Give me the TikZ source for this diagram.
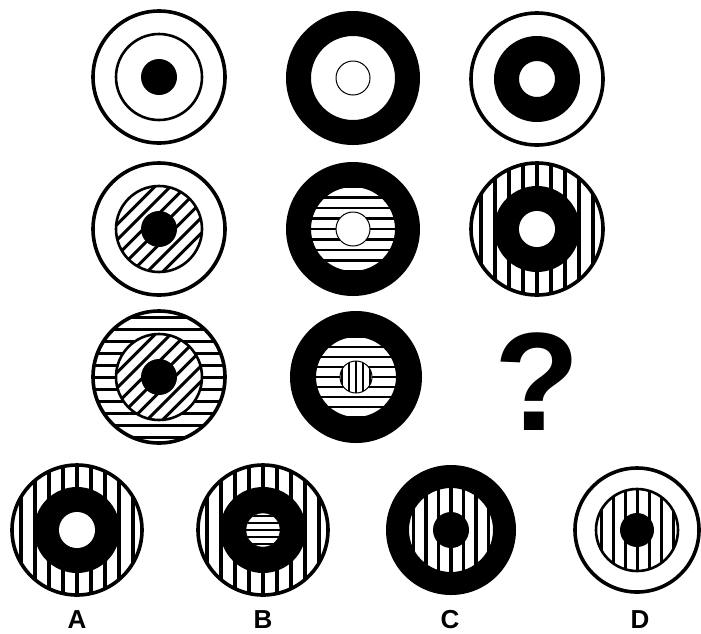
\documentclass[tikz,border=0pt]{standalone}
\usepackage{fontspec}
\setmainfont{Liberation Sans}

\begin{document}
\begin{tikzpicture}[x=1pt,y=-1pt,
  rim/.style={line width=3.6pt},
  ring/.style={line width=2.6pt},
  hairline/.style={line width=1pt},
  diag/.style 2 args={path picture={\foreach \k in {-12,...,12}
      \draw[line width=#2] ([xshift=\k*#1]path picture bounding box.center) ++(-90,90) -- ++(180,-180);}},
  horiz/.style 2 args={path picture={\foreach \k in {-10,...,10}
      \draw[line width=#2] ([yshift=\k*#1]path picture bounding box.center) ++(-90,0) -- ++(180,0);}},
  vert/.style 2 args={path picture={\foreach \k in {-10,...,10}
      \draw[line width=#2] ([xshift=\k*#1]path picture bounding box.center) ++(0,-90) -- ++(0,180);}},
  letter/.style={font=\bfseries\fontsize{26}{26}\selectfont}]
\useasboundingbox (0,0) rectangle (701,633);
\coordinate (p11) at (159,77);
\coordinate (p12) at (353,78);
\coordinate (p13) at (537,79);
\coordinate (p21) at (159,229);
\coordinate (p22) at (353,229);
\coordinate (p23) at (537,229);
\coordinate (p31) at (159,377);
\coordinate (p32) at (356,377);
\coordinate (qa) at (77,530);
\coordinate (qb) at (263,530);
\coordinate (qc) at (451,530);
\coordinate (qd) at (637,530);

% first row
\draw[rim] (p11) circle[radius=66];
\draw[ring] (p11) circle[radius=43];
\fill (p11) circle[radius=18];
\fill[even odd rule] (p12) circle[radius=67] circle[radius=42];
\draw[hairline] (p12) circle[radius=17];
\draw[rim] (p13) circle[radius=66];
\fill[even odd rule] (p13) circle[radius=43] circle[radius=18];

% second row
\draw[rim] (p21) circle[radius=66];
\draw[ring,diag={15.5pt}{3pt}] (p21) circle[radius=43];
\fill (p21) circle[radius=18];
\path[horiz={10.5pt}{2.8pt}] (p22) circle[radius=43];
\fill[even odd rule] (p22) circle[radius=67] circle[radius=42];
\draw[hairline,fill=white] (p22) circle[radius=17];
\draw[rim,vert={14pt}{3.4pt}] (p23) circle[radius=66];
\fill (p23) circle[radius=43];
\fill[white] (p23) circle[radius=18];

% third row
\draw[rim,horiz={12pt}{3pt}] (p31) circle[radius=66];
\draw[ring,fill=white,diag={15.5pt}{3pt}] (p31) circle[radius=43];
\fill (p31) circle[radius=18];
\path[horiz={10pt}{2.8pt}] (p32) circle[radius=41];
\fill[even odd rule] (p32) circle[radius=66] circle[radius=40];
\draw[hairline,fill=white,vert={7pt}{2.6pt}] (p32) circle[radius=16];
\node[font=\bfseries\fontsize{140}{140}\selectfont] (ask) at (537,382) {?};

% answers
\draw[rim,vert={14pt}{3.4pt}] (qa) circle[radius=65];
\fill (qa) circle[radius=43];
\fill[white] (qa) circle[radius=18];
\draw[rim,vert={14pt}{3.4pt}] (qb) circle[radius=65];
\fill (qb) circle[radius=43];
\draw[fill=white,horiz={7pt}{2.4pt}] (qb) circle[radius=17];
\path[vert={12.5pt}{3.2pt}] (qc) circle[radius=43];
\fill[even odd rule] (qc) circle[radius=65] circle[radius=42];
\fill (qc) circle[radius=18];
\draw[rim] (qd) circle[radius=62];
\draw[ring,vert={12pt}{3pt}] (qd) circle[radius=41];
\fill (qd) circle[radius=17];

\node[letter] (la) at (77,620) {A};
\node[letter] (lb) at (263,620) {B};
\node[letter] (lc) at (450,620) {C};
\node[letter] (ld) at (640,620) {D};
\end{tikzpicture}
\end{document}
